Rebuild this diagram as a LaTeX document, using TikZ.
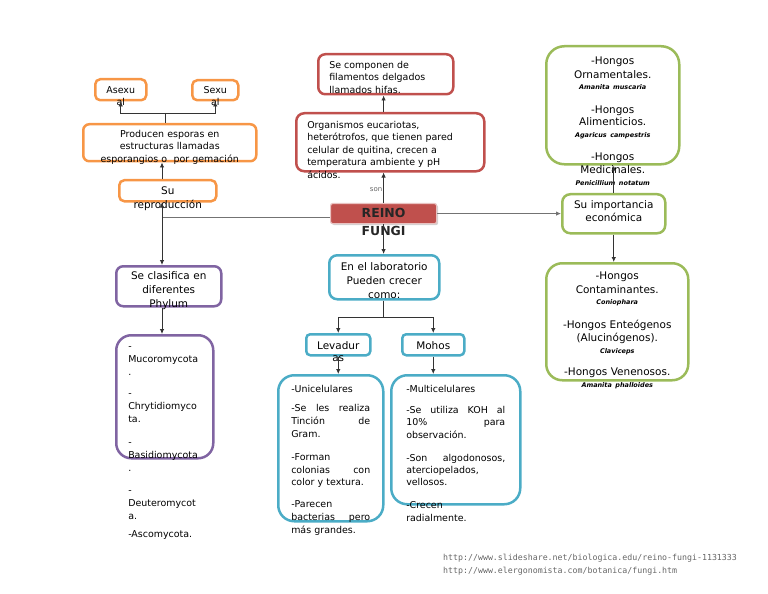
\documentclass[tikz,border=0pt]{standalone}
\usepackage{fontspec}
\setmainfont{DejaVu Sans}
\newfontfamily\urlfont{DejaVu Sans Mono}
\usepackage{tikz}
\usetikzlibrary{shadows, arrows.meta}
\definecolor{fungiorange}{HTML}{F79646}
\definecolor{fungired}{HTML}{C0504D}
\definecolor{fungigreen}{HTML}{9BBB59}
\definecolor{fungipurple}{HTML}{8064A2}
\definecolor{fungiteal}{HTML}{4BACC6}
\newcommand\fntA{\fontsize{9.5}{12.5}\selectfont}
\newcommand\fntB{\fontsize{10.5}{14}\selectfont}
\newcommand\species{\fontsize{6.5}{8}\selectfont\bfseries\itshape}
\newcommand\jline[2][79bp]{\leavevmode\hbox to #1{#2}}
\hyphenpenalty=10000
\exhyphenpenalty=10000

\begin{document}
\begin{tikzpicture}[x=1bp, y=-1bp, >={Latex[length=5bp,width=4.5bp]},
    mapbox/.style={draw, line width=2.5bp, inner ysep=0pt, anchor=north west, align=center, font=\fntA},
    orangebox/.style={mapbox, draw=fungiorange, rounded corners=5bp},
    redbox/.style={mapbox, draw=fungired, rounded corners=8bp, align=left},
    purplebox/.style={mapbox, draw=fungipurple, rounded corners=7bp},
    tealbox/.style={mapbox, draw=fungiteal, rounded corners=7bp},
    greenbox/.style={mapbox, draw=fungigreen, rounded corners=8bp},
    link/.style={draw=black!80, line width=0.8bp},
    sonlabel/.style={font=\fontsize{7}{8}\selectfont, text=black!60, inner sep=1bp},
    urlnote/.style={anchor=north west, inner sep=0pt, align=left, text=black!60, font=\urlfont\fontsize{8.3}{13}\selectfont}]
  \useasboundingbox (0,0) rectangle (768,594);

  % reproduccion (izquierda arriba)
  \node[orangebox, text width=45bp, inner xsep=3bp, text height=14bp, text depth=7bp] (asexual) at (94,78) {Asexu\\al};
  \node[orangebox, text width=40bp, inner xsep=3bp, text height=13bp, text depth=7bp] (sexual) at (191,79) {Sexu\\al};
  \node[orangebox, rounded corners=6bp, text width=165bp, inner xsep=4bp, text height=13bp, text depth=24bp] (esporas) at (82,123)
    {Producen esporas en\\estructuras llamadas\\esporangios o\ \ por gemación};
  \node[orangebox, font=\fntB, text width=89bp, inner xsep=4bp, text height=14bp, text depth=7bp] (reproduccion) at (118,179) {Su\\reproducción};

  % clasificacion (izquierda abajo)
  \node[purplebox, font=\fntB, text width=97bp, inner xsep=4bp, text height=13bp, text depth=27bp] (clasifica) at (115,265)
    {Se clasifica en\\diferentes\\Phylum};
  \node[purplebox, rounded corners=15bp, align=left, font=\fontsize{9.5}{13}\selectfont, text width=73bp, inner xsep=12bp, text height=14bp, text depth=109bp] (phylum) at (115,334)
    {-\\Mucoromycota\\.\\[8bp]
     -\\Chrytidiomyco\\ta.\\[11bp]
     -\\Basidiomycota\\.\\[9bp]
     -\\Deuteromycot\\a.\\[5bp]
     -Ascomycota.};

  % centro
  \node[mapbox, fill=fungired, draw=fungired!35!white, line width=1.2bp, rounded corners=2bp,
        drop shadow={shadow xshift=1.5bp, shadow yshift=-1.5bp, opacity=0.35},
        font=\fontsize{12.5}{18}\selectfont\bfseries, text=black!85,
        text width=100bp, inner xsep=3bp, text height=14bp, text depth=6bp] (reino) at (330,203) {REINO\\FUNGI};
  \node[redbox, text width=166bp, inner xsep=11bp, text height=15bp, text depth=43bp] (organismos) at (295,112)
    {Organismos eucariotas,\\heterótrofos, que tienen pared\\celular de quitina, crecen a\\temperatura ambiente y pH\\ácidos.};
  \node[redbox, rounded corners=7bp, text width=113bp, inner xsep=11bp, text height=14bp, text depth=26bp] (filamentos) at (317,53)
    {Se componen de\\filamentos delgados\\llamados hifas.};
  \node[tealbox, rounded corners=8bp, font=\fntB, text width=104bp, inner xsep=3bp, text height=15bp, text depth=29bp] (laboratorio) at (328,254)
    {En el laboratorio\\Pueden crecer\\como:};
  \node[tealbox, rounded corners=4bp, font=\fntB, text width=58bp, inner xsep=3bp, text height=15bp, text depth=6bp] (levaduras) at (305,333) {Levadur\\[-2bp]as};
  \node[tealbox, rounded corners=4bp, font=\fntB, text width=56bp, inner xsep=3bp, text height=15bp, text depth=6bp] (mohos) at (401,333) {Mohos};
  \node[tealbox, rounded corners=16bp, align=left, font=\fontsize{9.5}{13}\selectfont, text width=79bp, inner xsep=13bp, text height=17bp, text depth=129bp] (unicel) at (277,374)
    {-Unicelulares\\[6bp]
     \jline{-Se\hfill les\hfill realiza}\\\jline{Tinción\hfill de}\\Gram.\\[10bp]
     -Forman\\\jline{colonias\hfill con}\\color y textura.\\[9bp]
     -Parecen\\\jline{bacterias\hfill pero}\\más grandes.};
  \node[tealbox, rounded corners=16bp, align=left, font=\fontsize{9.5}{12.5}\selectfont, text width=99bp, inner xsep=15bp, text height=17bp, text depth=112bp] (multicel) at (390,374)
    {-Multicelulares\\[8.5bp]
     \jline[99bp]{-Se\hfill utiliza\hfill KOH\hfill al}\\\jline[99bp]{10\%\hfill para}\\observación.\\[10.5bp]
     \jline[99bp]{-Son\hfill algodonosos,}\\aterciopelados,\\vellosos.\\[10.5bp]
     -Crecen\\radialmente.};

  % importancia (derecha)
  \node[greenbox, font=\fontsize{10.5}{13}\selectfont, text width=97bp, inner xsep=3bp, text height=14bp, text depth=25bp] (importancia) at (561,193)
    {Su importancia\\económica};
  \node[greenbox, rounded corners=18bp, font=\fontsize{10.5}{12}\selectfont, text width=127bp, inner xsep=3bp, text height=18bp, text depth=100bp] (usos1) at (545,45)
    {-Hongos\\[2bp]Ornamentales.\\[-1bp]{\species Amanita muscaria}\\[12bp]
     -Hongos\\Alimenticios.\\{\species Agaricus campestris}\\[12bp]
     -Hongos\\[1bp]Medicinales.\\{\species Penicillium notatum}};
  \node[greenbox, rounded corners=16bp, font=\fontsize{10.5}{12}\selectfont, text width=136bp, inner xsep=3bp, text height=16bp, text depth=101bp] (usos2) at (545,262)
    {-Hongos\\[2bp]Contaminantes.\\[-1bp]{\species Coniophara}\\[12bp]
     -Hongos Enteógenos\\[1bp](Alucinógenos).\\{\species Claviceps}\\[11bp]
     -Hongos Venenosos.\\{\species Amanita phalloides}};

  \node[urlnote, text width=320bp, text height=7bp] (fuentes) at (443,553)
    {http://www.slideshare.net/biologica.edu/reino-fungi-1131333\\http://www.elergonomista.com/botanica/fungi.htm};

  % conectores
  \coordinate (hub) at (162,217);
  \coordinate (sexsplit) at (165,113);
  \draw[link] (sexsplit) -- (sexsplit |- esporas.north);
  \draw[link,->] (sexsplit) -| (asexual.south);
  \draw[link,->] (sexsplit) -| (sexual.south);
  \draw[link, draw=black!55] (hub) -- (hub -| reino.west);
  \draw[link,->] (hub) -- (hub |- reproduccion.south);
  \draw[link,->] (hub) -- (hub |- clasifica.north);
  \draw[link,->] (hub |- reproduccion.north) -- (hub |- esporas.south);
  \draw[link,->] (hub |- clasifica.south) -- (hub |- phylum.north);

  \draw[link,->] (reino.north) -- node[sonlabel, left, pos=0.45] {son} (reino.north |- organismos.south);
  \draw[link,->] (reino.north |- organismos.north) -- (reino.north |- filamentos.south);
  \draw[link,->] (reino.south) -- (reino.south |- laboratorio.north);
  \draw[link] (reino.south |- laboratorio.south) -- ++(0,17) coordinate (split);
  \draw[link,->] (split) -| (levaduras.north);
  \draw[link,->] (split) -| (mohos.north);
  \draw[link,->] (levaduras.south) -- (levaduras.south |- unicel.north);
  \draw[link,->] (mohos.south) -- (mohos.south |- multicel.north);

  \draw[link,->, draw=black!55] (reino.east) -- (reino.east -| importancia.west);
  \draw[link,->] (importancia.north) -- (importancia.north |- usos1.south);
  \draw[link,->] (importancia.south) -- (importancia.south |- usos2.north);
\end{tikzpicture}
\end{document}
